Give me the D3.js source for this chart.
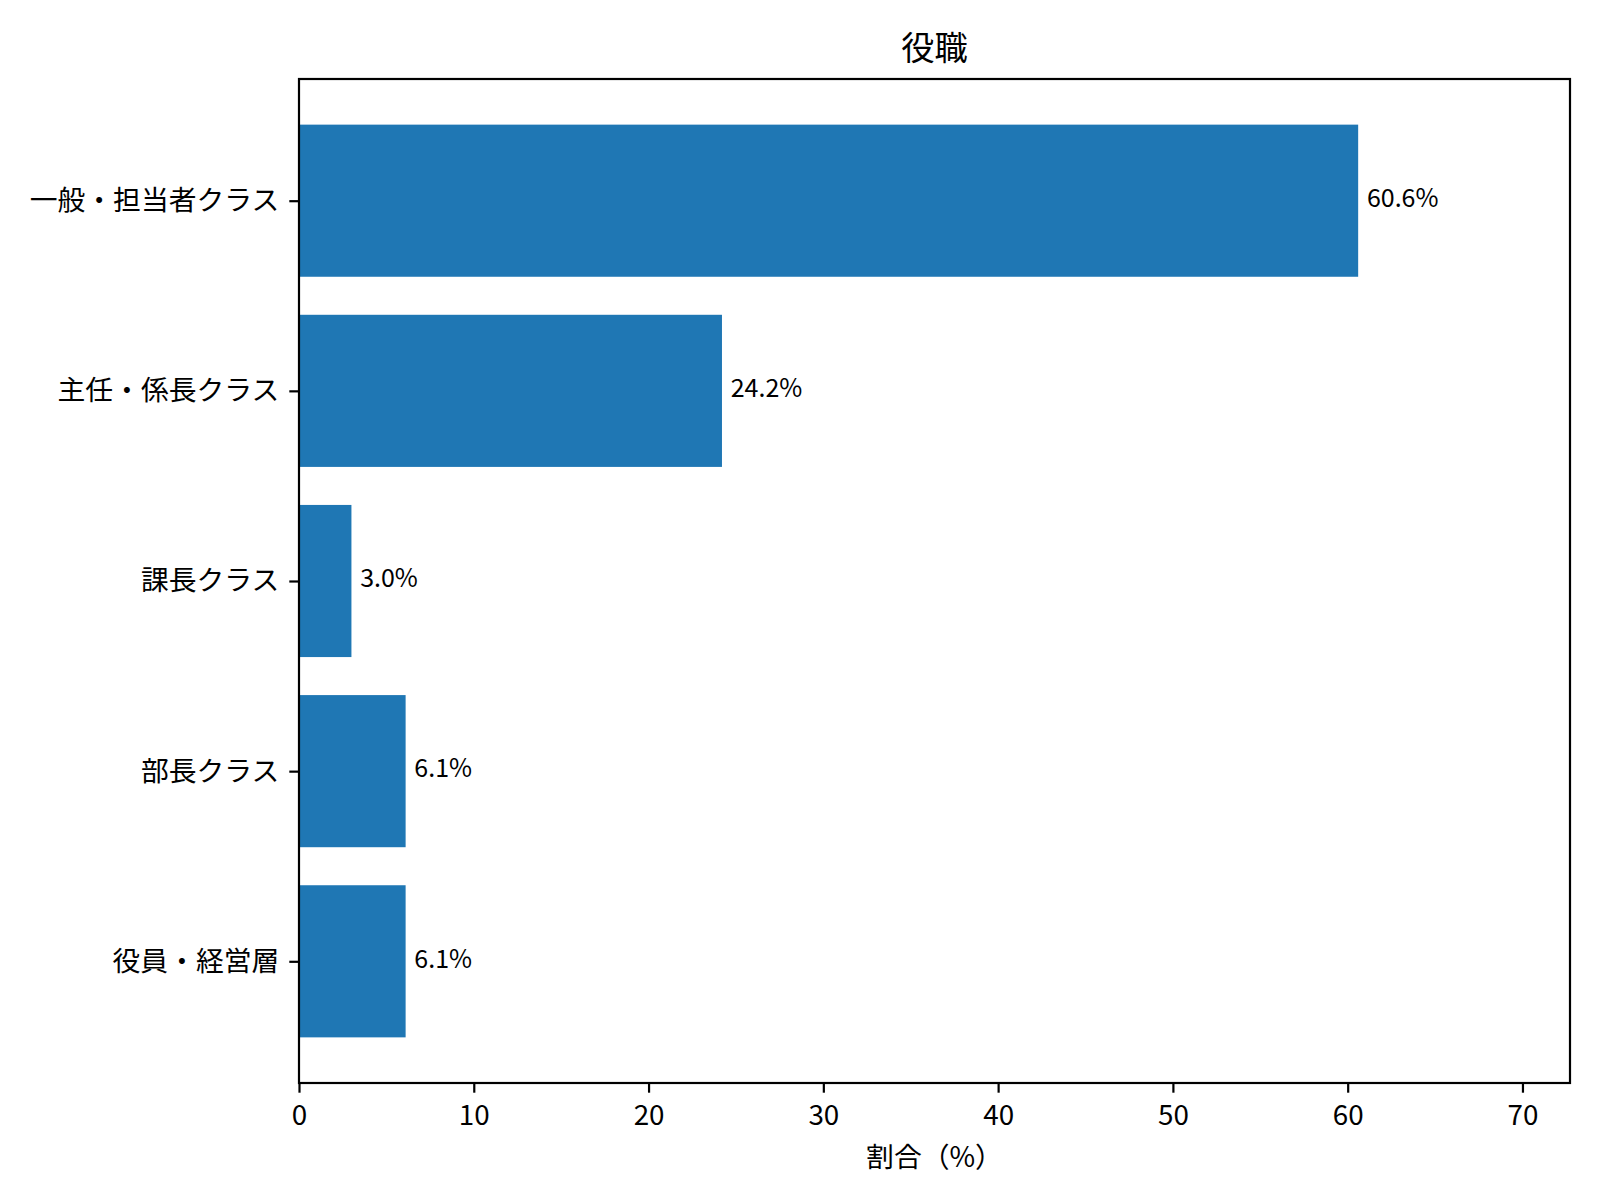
<!DOCTYPE html>
<html>
<head>
<meta charset="utf-8">
<script src="https://cdn.jsdelivr.net/npm/d3@7"></script>
<style>
  html, body { margin: 0; padding: 0; background: #fff; overflow: hidden; }
  svg { display: block; font-family: "Noto Sans CJK JP", "Noto Sans", sans-serif; }
</style>
</head>
<body>
<div id="chart"></div>
<script>
// data
const categories = ["一般・担当者クラス", "主任・係長クラス", "課長クラス", "部長クラス", "役員・経営層"];
const values = [60.6, 24.2, 3.0, 6.1, 6.1];
const xTicks = [0, 10, 20, 30, 40, 50, 60, 70];

const width = 1600, height = 1200;
const margin = { top: 79, right: 30, bottom: 117, left: 299 };
const innerW = width - margin.left - margin.right;
const innerH = height - margin.top - margin.bottom;

const svg = d3.select("#chart").append("svg")
  .attr("width", width)
  .attr("height", height);

const g = svg.append("g")
  .attr("transform", `translate(${margin.left},${margin.top})`);

// x limit is 1.2 * max, like the original
const x = d3.scaleLinear()
  .domain([0, d3.max(values) * 1.2])
  .range([0, innerW]);

// matplotlib-ish: bars of height 0.8, 5% margins
const n = categories.length;
const pad = 0.05 * (n - 1 + 0.8);
const y = d3.scaleLinear()
  .domain([-0.4 - pad, n - 1 + 0.4 + pad])
  .range([0, innerH]);
const barH = y(0.8) - y(0);

const data = categories.map((c, i) => ({ c, v: values[i], i }));

g.selectAll("rect.bar")
  .data(data)
  .enter()
  .append("rect")
  .attr("class", "bar")
  .attr("x", x(0))
  .attr("y", d => y(d.i - 0.4))
  .attr("width", d => x(d.v) - x(0))
  .attr("height", barH)
  .attr("fill", "#1f77b4");

// value labels
g.selectAll("text.val")
  .data(data)
  .enter()
  .append("text")
  .attr("class", "val")
  .attr("x", d => x(d.v + 0.5))
  .attr("y", d => y(d.i))
  .attr("dy", "0.25em")
  .attr("font-size", 25)
  .attr("fill", "#000")
  .text(d => d.v.toFixed(1) + "%");

// axes
const xAxis = d3.axisBottom(x)
  .tickValues(xTicks)
  .tickFormat(d3.format("d"))
  .tickSizeInner(9.7)
  .tickSizeOuter(0)
  .tickPadding(13);

const gx = g.append("g")
  .attr("transform", `translate(0,${innerH})`)
  .call(xAxis);
gx.select(".domain").remove();
gx.selectAll("line").attr("stroke", "#000").attr("stroke-width", 2.2);
gx.selectAll("text").attr("font-size", 27.8).attr("fill", "#000")
  .attr("font-family", "\"Noto Sans CJK JP\", sans-serif");

const yAxis = d3.axisLeft(y)
  .tickValues(d3.range(n))
  .tickFormat(i => categories[i])
  .tickSizeInner(9.7)
  .tickSizeOuter(0)
  .tickPadding(10);

const gy = g.append("g").call(yAxis);
gy.select(".domain").remove();
gy.selectAll("line").attr("stroke", "#000").attr("stroke-width", 2.2);
gy.selectAll("text").attr("font-size", 27.8).attr("fill", "#000")
  .attr("font-family", "\"Noto Sans CJK JP\", sans-serif");

// frame
g.append("rect")
  .attr("width", innerW)
  .attr("height", innerH)
  .attr("fill", "none")
  .attr("stroke", "#000")
  .attr("stroke-width", 2.2);

// axis title
svg.append("text")
  .attr("x", margin.left + innerW / 2)
  .attr("y", 1167)
  .attr("text-anchor", "middle")
  .attr("font-size", 27.8)
  .text("割合（%）");

// chart title
svg.append("text")
  .attr("x", margin.left + innerW / 2)
  .attr("y", 60)
  .attr("text-anchor", "middle")
  .attr("font-size", 33.3)
  .text("役職");
</script>
</body>
</html>
